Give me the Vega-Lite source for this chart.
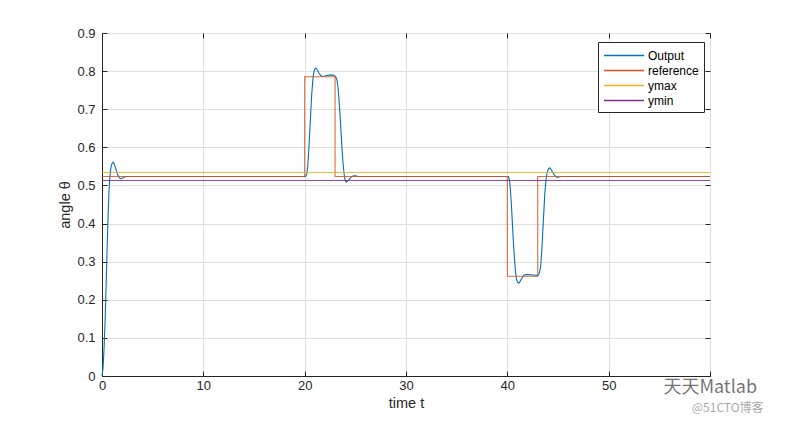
{
  "$schema": "https://vega.github.io/schema/vega-lite/v6.json",
  "width": 608,
  "height": 343,
  "autosize": {"type": "none"},
  "padding": {"left": 102, "top": 33, "right": 77, "bottom": 47},
  "background": "white",
  "config": {
    "font": "Liberation Sans",
    "view": {"stroke": "#262626", "strokeWidth": 1},
    "axis": {
      "domainColor": "#262626",
      "tickColor": "#262626",
      "labelColor": "#262626",
      "titleColor": "#262626",
      "gridColor": "#dfdfdf",
      "labelFont": "Liberation Sans",
      "titleFont": "Liberation Sans",
      "labelFontSize": 13,
      "titleFontSize": 14.5,
      "titleFontWeight": "normal",
      "tickSize": -5,
      "labelOverlap": false,
      "labelFlush": false
    },
    "legend": {
      "labelFont": "Liberation Sans",
      "labelFontSize": 12,
      "labelColor": "#000000"
    }
  },
  "resolve": {"axis": {"x": "independent", "y": "independent"}},
  "datasets": {
    "output": [
      {"t": 0, "v": 0}, {"t": 0.1, "v": 0.02}, {"t": 0.2, "v": 0.07}, {"t": 0.3, "v": 0.14},
      {"t": 0.4, "v": 0.23}, {"t": 0.5, "v": 0.33}, {"t": 0.6, "v": 0.42}, {"t": 0.7, "v": 0.49},
      {"t": 0.8, "v": 0.53}, {"t": 0.9, "v": 0.55}, {"t": 1.0, "v": 0.558}, {"t": 1.1, "v": 0.561},
      {"t": 1.2, "v": 0.557}, {"t": 1.35, "v": 0.545}, {"t": 1.5, "v": 0.532}, {"t": 1.65, "v": 0.522},
      {"t": 1.8, "v": 0.518}, {"t": 2.0, "v": 0.519}, {"t": 2.2, "v": 0.522}, {"t": 2.4, "v": 0.5236},
      {"t": 20.1, "v": 0.5236}, {"t": 20.2, "v": 0.53}, {"t": 20.3, "v": 0.55}, {"t": 20.4, "v": 0.59},
      {"t": 20.5, "v": 0.64}, {"t": 20.6, "v": 0.69}, {"t": 20.7, "v": 0.74}, {"t": 20.8, "v": 0.775},
      {"t": 20.9, "v": 0.797}, {"t": 21.0, "v": 0.806}, {"t": 21.1, "v": 0.808}, {"t": 21.2, "v": 0.805},
      {"t": 21.4, "v": 0.795}, {"t": 21.6, "v": 0.788}, {"t": 21.8, "v": 0.786}, {"t": 22.0, "v": 0.787},
      {"t": 22.3, "v": 0.789}, {"t": 22.6, "v": 0.79}, {"t": 22.9, "v": 0.789}, {"t": 23.0, "v": 0.787},
      {"t": 23.1, "v": 0.783}, {"t": 23.2, "v": 0.775}, {"t": 23.3, "v": 0.755}, {"t": 23.4, "v": 0.72},
      {"t": 23.5, "v": 0.68}, {"t": 23.6, "v": 0.635}, {"t": 23.7, "v": 0.59}, {"t": 23.8, "v": 0.555},
      {"t": 23.9, "v": 0.528}, {"t": 24.0, "v": 0.513}, {"t": 24.1, "v": 0.509}, {"t": 24.2, "v": 0.51},
      {"t": 24.4, "v": 0.516}, {"t": 24.6, "v": 0.522}, {"t": 24.8, "v": 0.525}, {"t": 25.0, "v": 0.525},
      {"t": 25.3, "v": 0.5236}, {"t": 40.1, "v": 0.5236}, {"t": 40.2, "v": 0.515}, {"t": 40.3, "v": 0.49},
      {"t": 40.4, "v": 0.45}, {"t": 40.5, "v": 0.4}, {"t": 40.6, "v": 0.35}, {"t": 40.7, "v": 0.31},
      {"t": 40.8, "v": 0.275}, {"t": 40.9, "v": 0.255}, {"t": 41.0, "v": 0.247}, {"t": 41.1, "v": 0.244},
      {"t": 41.2, "v": 0.245}, {"t": 41.4, "v": 0.255}, {"t": 41.6, "v": 0.263}, {"t": 41.8, "v": 0.266},
      {"t": 42.0, "v": 0.266}, {"t": 42.5, "v": 0.265}, {"t": 43.0, "v": 0.264}, {"t": 43.1, "v": 0.266},
      {"t": 43.2, "v": 0.275}, {"t": 43.3, "v": 0.29}, {"t": 43.4, "v": 0.33}, {"t": 43.5, "v": 0.38},
      {"t": 43.6, "v": 0.43}, {"t": 43.7, "v": 0.48}, {"t": 43.8, "v": 0.51}, {"t": 43.9, "v": 0.53},
      {"t": 44.0, "v": 0.54}, {"t": 44.1, "v": 0.545}, {"t": 44.2, "v": 0.546}, {"t": 44.3, "v": 0.543},
      {"t": 44.5, "v": 0.533}, {"t": 44.7, "v": 0.525}, {"t": 44.9, "v": 0.521}, {"t": 45.1, "v": 0.522},
      {"t": 45.3, "v": 0.5236}, {"t": 60, "v": 0.5236}
    ],
    "reference": [
      {"i": 0, "t": 0, "v": 0.5236}, {"i": 1, "t": 20, "v": 0.5236}, {"i": 2, "t": 20, "v": 0.7854},
      {"i": 3, "t": 23, "v": 0.7854}, {"i": 4, "t": 23, "v": 0.5236}, {"i": 5, "t": 40, "v": 0.5236},
      {"i": 6, "t": 40, "v": 0.2618}, {"i": 7, "t": 43, "v": 0.2618}, {"i": 8, "t": 43, "v": 0.5236},
      {"i": 9, "t": 60, "v": 0.5236}
    ],
    "ymax": [{"t": 0, "v": 0.5341}, {"t": 60, "v": 0.5341}],
    "ymin": [{"t": 0, "v": 0.5131}, {"t": 60, "v": 0.5131}],
    "marks": [
      {"t": 55.4, "v": -0.031, "label": "天天Matlab", "k": "a"},
      {"t": 58.2, "v": -0.084, "label": "@51CTO博客", "k": "b"}
    ]
  },
  "layer": [
    {
      "data": {"name": "output"},
      "mark": {"type": "line", "strokeWidth": 1.1, "clip": false},
      "encoding": {
        "x": {
          "field": "t", "type": "quantitative",
          "scale": {"domain": [0, 60], "nice": false},
          "axis": {"values": [0, 10, 20, 30, 40, 50, 60], "labelExpr": "datum.value == 60 ? '' : datum.label", "title": "time t", "grid": true, "labelPadding": 8, "titlePadding": 4}
        },
        "y": {
          "field": "v", "type": "quantitative",
          "scale": {"domain": [0, 0.9], "nice": false, "zero": false},
          "axis": {"values": [0, 0.1, 0.2, 0.3, 0.4, 0.5, 0.6, 0.7, 0.8, 0.9], "tickCount": 10, "format": ".1~f", "title": "angle θ", "grid": true, "labelPadding": 12, "titlePadding": 4}
        },
        "color": {
          "datum": "Output",
          "type": "nominal",
          "scale": {"domain": ["Output", "reference", "ymax", "ymin"], "range": ["#0072BD", "#D95319", "#EDB120", "#7E2F8E"]},
          "legend": {
            "title": null,
            "orient": "none",
            "legendX": 496,
            "legendY": 9,
            "symbolType": "M-1,0H4.333",
            "symbolSize": 225,
            "symbolStrokeWidth": 1.5,
            "fillColor": "white",
            "strokeColor": "#262626",
            "padding": 5,
            "labelOffset": 28,
            "rowPadding": 0
          }
        }
      }
    },
    {
      "data": {"name": "reference"},
      "mark": {"type": "line", "strokeWidth": 1.1, "strokeOpacity": 0.85},
      "encoding": {
        "x": {"field": "t", "type": "quantitative", "axis": null},
        "y": {"field": "v", "type": "quantitative", "axis": null},
        "order": {"field": "i"},
        "color": {"datum": "reference", "type": "nominal"}
      }
    },
    {
      "data": {"name": "ymax"},
      "mark": {"type": "line", "strokeWidth": 0.9},
      "encoding": {
        "x": {"field": "t", "type": "quantitative", "axis": null},
        "y": {"field": "v", "type": "quantitative", "axis": null},
        "color": {"datum": "ymax", "type": "nominal"}
      }
    },
    {
      "data": {"name": "ymin"},
      "mark": {"type": "line", "strokeWidth": 0.9},
      "encoding": {
        "x": {
          "field": "t", "type": "quantitative",
          "axis": {"orient": "top", "values": [0, 10, 20, 30, 40, 50, 60], "labels": false, "title": null, "grid": false, "domain": false}
        },
        "y": {
          "field": "v", "type": "quantitative",
          "axis": {"orient": "right", "values": [0, 0.1, 0.2, 0.3, 0.4, 0.5, 0.6, 0.7, 0.8, 0.9], "labels": false, "title": null, "grid": false, "domain": false}
        },
        "color": {"datum": "ymin", "type": "nominal"}
      }
    },
    {
      "data": {"name": "marks"},
      "mark": {"type": "text", "align": "left", "baseline": "middle", "clip": false, "font": "Noto Sans CJK SC"},
      "encoding": {
        "x": {"field": "t", "type": "quantitative", "axis": null},
        "y": {"field": "v", "type": "quantitative", "axis": null},
        "text": {"field": "label"},
        "size": {"field": "k", "type": "nominal", "scale": {"domain": ["a", "b"], "range": [18, 12]}, "legend": null},
        "opacity": {"field": "k", "type": "nominal", "scale": {"domain": ["a", "b"], "range": [0.55, 0.35]}, "legend": null}
      }
    }
  ]
}
